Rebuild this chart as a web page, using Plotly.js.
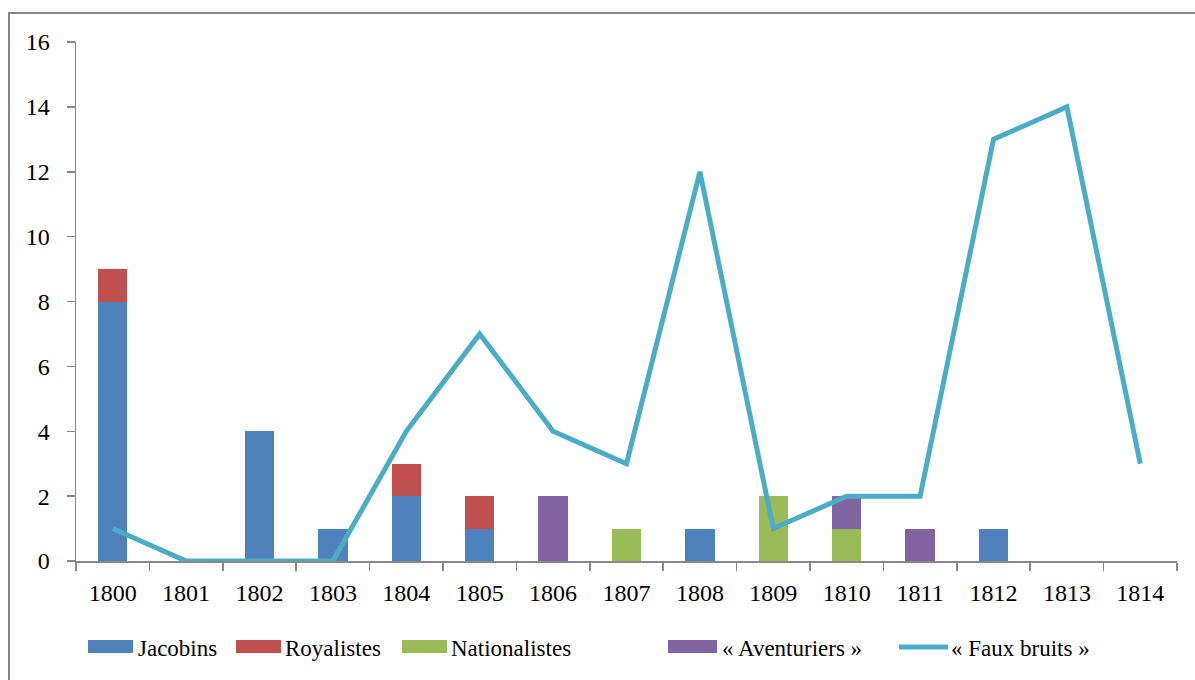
<!DOCTYPE html>
<html>
<head>
<meta charset="utf-8">
<script src="https://cdn.plot.ly/plotly-3.0.1.min.js"></script>
<style>
  html, body { margin: 0; padding: 0; overflow: hidden; background: #fff; }
  #chart { width: 1195px; height: 680px; position: absolute; left: 0; top: 0; }
  #frame { position: absolute; left: 8px; top: 12px; width: 1200px; height: 700px;
           border-top: 2px solid #868686; border-left: 2px solid #868686; pointer-events: none; }
</style>
</head>
<body>
<div id="chart"></div>
<div id="frame"></div>
<script>
const years = ['1800','1801','1802','1803','1804','1805','1806','1807','1808','1809','1810','1811','1812','1813','1814'];
const jacobins      = [8,0,4,1,2,1,0,0,1,0,0,0,1,0,0];
const royalistes    = [1,0,0,0,1,1,0,0,0,0,0,0,0,0,0];
const nationalistes = [0,0,0,0,0,0,0,1,0,2,1,0,0,0,0];
const aventuriers   = [0,0,0,0,0,0,2,0,0,0,1,1,0,0,0];
const fauxBruits    = [1,0,0,0,4,7,4,3,12,1,2,2,13,14,3];

const seriesNames = ['Jacobins','Royalistes','Nationalistes','« Aventuriers »','« Faux bruits »'];
const colors = ['#4F81BD','#C0504D','#9BBB59','#8064A2','#4BACC6'];

const W = 1195, H = 680;
const M = {l: 76, r: 18, t: 42, b: 119};
const pw = W - M.l - M.r, ph = H - M.t - M.b;
const px = x => (x - M.l) / pw;
const py = y => 1 - (y - M.t) / ph;

const font = '"Liberation Serif", "Times New Roman", serif';

const barData = [jacobins, royalistes, nationalistes, aventuriers];
const traces = barData.map((vals, i) => ({
  type: 'bar', x: years, y: vals, name: seriesNames[i],
  marker: {color: colors[i]}, showlegend: false, hoverinfo: 'x+y+name'
}));
traces.push({
  type: 'scatter', mode: 'lines', x: years, y: fauxBruits, name: seriesNames[4],
  line: {color: colors[4], width: 5}, showlegend: false
});

// manual legend (pixel positions)
const legendItems = [
  {sx0: 88,  sx1: 133, tx: 136, kind: 'bar'},
  {sx0: 236, sx1: 281, tx: 283, kind: 'bar'},
  {sx0: 402, sx1: 447, tx: 449, kind: 'bar'},
  {sx0: 668, sx1: 717, tx: 720, kind: 'bar'},
  {sx0: 899, sx1: 948, tx: 949, kind: 'line'}
];
const shapes = [], annotations = [];
legendItems.forEach((it, i) => {
  if (it.kind === 'bar') {
    shapes.push({type: 'rect', xref: 'paper', yref: 'paper',
      x0: px(it.sx0), x1: px(it.sx1), y0: py(653), y1: py(640),
      fillcolor: colors[i], line: {width: 0}});
  } else {
    shapes.push({type: 'line', xref: 'paper', yref: 'paper',
      x0: px(it.sx0), x1: px(it.sx1), y0: py(647), y1: py(647),
      line: {color: colors[i], width: 5}});
  }
  annotations.push({xref: 'paper', yref: 'paper', x: px(it.tx), y: py(648),
    xanchor: 'left', yanchor: 'middle', showarrow: false, text: seriesNames[i],
    font: {family: font, size: 23, color: '#000'}});
});

const layout = {
  width: W, height: H,
  margin: M,
  barmode: 'stack',
  bargap: 0.6,
  paper_bgcolor: '#fff', plot_bgcolor: '#fff',
  font: {family: font, size: 24, color: '#000'},
  showlegend: false,
  xaxis: {
    type: 'category', tickson: 'boundaries', ticks: 'outside', ticklen: 8, tickwidth: 1.5,
    tickcolor: '#888', showline: true, linecolor: '#888', linewidth: 1.5,
    showgrid: false, zeroline: false, tickfont: {family: font, size: 24},
    ticklabelstandoff: 10, automargin: false
  },
  yaxis: {
    range: [0, 16], dtick: 2, ticks: 'outside', ticklen: 8, tickwidth: 1.5, tickcolor: '#888',
    showline: true, linecolor: '#888', linewidth: 1.5, showgrid: false, zeroline: false,
    tickfont: {family: font, size: 24}, ticklabelstandoff: 12, automargin: false
  },
  shapes: shapes,
  annotations: annotations
};

Plotly.newPlot('chart', traces, layout, {displayModeBar: false, staticPlot: true});
</script>
</body>
</html>
